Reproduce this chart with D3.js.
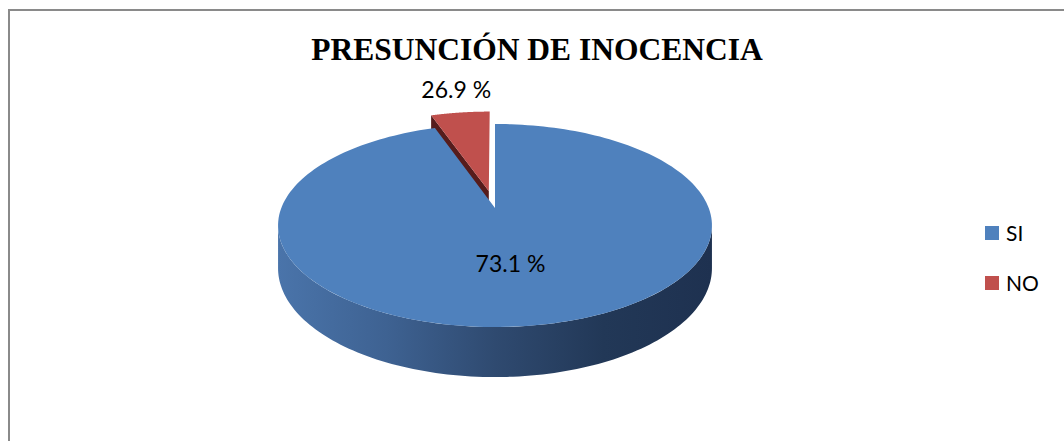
<!DOCTYPE html>
<html>
<head>
<meta charset="utf-8">
<script src="https://cdn.jsdelivr.net/npm/d3@7"></script>
<style>
  html, body { margin: 0; padding: 0; background: #fff; }
  svg { display: block; }
</style>
</head>
<body>
<svg id="chart" width="1064" height="441"></svg>
<script>
// ---- data ----
const title = "PRESUNCIÓN DE INOCENCIA";
const categories = ["SI", "NO"];
const labels = ["73.1 %", "26.9 %"];
// slice sizes as drawn in the picture (share of the full circle)
const sliceValues = [94.7, 5.3];
const explode = [0, 0.18];
const topColors = ["#4F81BD", "#C0504D"];
const sideColors = ["#2f4b73", "#561c1c"];

// ---- layout ----
const svg = d3.select("#chart");
const W = 1064, H = 441;

svg.append("rect")
  .attr("x", 9).attr("y", 10)
  .attr("width", W + 20).attr("height", H + 20)
  .attr("fill", "#fff").attr("stroke", "#8a8a8a").attr("stroke-width", 2);

svg.append("text")
  .attr("x", 537).attr("y", 60)
  .attr("text-anchor", "middle")
  .attr("font-family", "'Liberation Serif', 'Times New Roman', serif")
  .attr("font-weight", "bold")
  .attr("font-size", 31.5)
  .attr("fill", "#000")
  .text(title);

// projection (tilted disc with mild perspective)
const cx = 495, cy = 208, A = 213.7, B = 98.5, K = 0.1724, Hd = 41.4;
function proj(x, z, h) {
  const s = 1 / (1 + K * z);
  return [cx + A * x * s, cy + (-B * z + Hd * h) * s];
}

const pie = d3.pie().sort(null).value(d => d)(sliceValues);

const defs = svg.append("defs");
const grad = defs.append("linearGradient")
  .attr("id", "sideGrad").attr("gradientUnits", "userSpaceOnUse")
  .attr("x1", 278).attr("x2", 712).attr("y1", 0).attr("y2", 0);
[[0, "#4a74aa"], [0.25, "#3e6292"], [0.5, "#2f4a70"], [0.75, "#223857"], [1, "#1e3150"]]
  .forEach(([o, c]) => grad.append("stop").attr("offset", o).attr("stop-color", c));

const line = d3.line();

function rimPts(a0, a1, h, ex, ez, n) {
  const pts = [];
  for (let i = 0; i <= n; i++) {
    const a = a0 + (a1 - a0) * i / n;
    pts.push(proj(Math.sin(a) + ex, Math.cos(a) + ez, h));
  }
  return pts;
}

const g = svg.append("g");
// draw the exploded (back) slice first, then the big slice
const order = [1, 0];
order.forEach(i => {
  const p = pie[i];
  const mid = (p.startAngle + p.endAngle) / 2;
  const ex = Math.sin(mid) * explode[i], ez = Math.cos(mid) * explode[i];
  const c0 = proj(ex, ez, 0), c1 = proj(ex, ez, 1);

  if (i === 1) {
    const a = p.startAngle;
    const t = proj(Math.sin(a) + ex, Math.cos(a) + ez, 0);
    const b = proj(Math.sin(a) + ex, Math.cos(a) + ez, 1);
    g.append("path").attr("d", line([c0, t, b, c1]) + "Z")
      .attr("fill", sideColors[i]);
  } else {
    const aS = Math.acos(-K), aE = 2 * Math.PI - Math.acos(-K);
    const a0 = Math.max(aS, p.startAngle), a1 = Math.min(aE, p.endAngle);
    const top = rimPts(a0, a1, 0, ex, ez, 120);
    const bot = rimPts(a0, a1, 1, ex, ez, 120).reverse();
    g.append("path").attr("d", line(top.concat(bot)) + "Z")
      .attr("fill", "url(#sideGrad)");
  }
  const face = [c0].concat(rimPts(p.startAngle, p.endAngle, 0, ex, ez, 200));
  g.append("path").attr("d", line(face) + "Z").attr("fill", topColors[i]);
});

// data labels
const labelFont = "Lato, 'Open Sans', sans-serif";
{
  const p = pie[0];
  const mid = (p.startAngle + p.endAngle) / 2;
  const pt = proj(Math.sin(mid) * 0.55, Math.cos(mid) * 0.55, 0);
  svg.append("text").attr("x", pt[0] - 6).attr("y", pt[1] + 5)
    .attr("text-anchor", "middle").attr("font-family", labelFont)
    .attr("font-size", 23).attr("fill", "#000").text(labels[0]);
}
{
  const p = pie[1];
  const mid = (p.startAngle + p.endAngle) / 2;
  const r = 1 + explode[1];
  const pt = proj(Math.sin(mid) * r, Math.cos(mid) * r, 0);
  svg.append("text").attr("x", pt[0] - 4).attr("y", pt[1] - 15)
    .attr("text-anchor", "middle").attr("font-family", labelFont)
    .attr("font-size", 23).attr("fill", "#000").text(labels[1]);
}

// legend
const leg = svg.append("g").attr("transform", "translate(985,226)");
categories.forEach((c, i) => {
  const row = leg.append("g").attr("transform", `translate(0,${i * 50})`);
  row.append("rect").attr("width", 14).attr("height", 14).attr("fill", topColors[i]);
  row.append("text").attr("x", 21).attr("y", 15)
    .attr("font-family", labelFont).attr("font-size", 21).attr("fill", "#000").text(c);
});
</script>
</body>
</html>
